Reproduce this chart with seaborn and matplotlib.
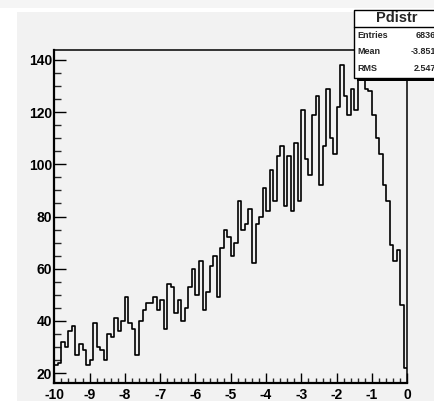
import numpy as np
import pandas as pd
import seaborn as sns
import matplotlib
matplotlib.use("Agg")
import matplotlib.pyplot as plt
from matplotlib.patches import Rectangle
from matplotlib.lines import Line2D
from matplotlib.ticker import MultipleLocator

# Histogram definition: 100 bins between -10 and 0
x_min, x_max, n_bins = -10.0, 0.0, 100
counts = [
    23, 24, 32, 30, 36, 38, 27, 31, 29, 23,
    25, 39, 30, 29, 25, 35, 34, 41, 36, 40,
    49, 39, 37, 27, 40, 44, 47, 47, 49, 44,
    48, 37, 54, 53, 43, 48, 40, 45, 53, 60,
    50, 63, 44, 51, 61, 65, 49, 68, 75, 72,
    65, 70, 86, 75, 77, 83, 62, 77, 80, 91,
    82, 98, 86, 103, 107, 84, 103, 82, 108, 86,
    121, 102, 96, 119, 126, 92, 107, 129, 110, 104,
    122, 138, 126, 119, 129, 121, 136, 134, 129, 128,
    119, 110, 104, 92, 86, 69, 63, 67, 46, 22,
]
hist_name = "Pdistr"
stat_names = ["Entries", "Mean", "RMS"]
stat_values = ["6836", "-3.851", "2.547"]

edges = np.linspace(x_min, x_max, n_bins + 1)
centers = 0.5 * (edges[:-1] + edges[1:])
df = pd.DataFrame({"p": centers, "n": counts})

sns.set_theme(style="ticks")
plt.rcParams["font.family"] = ["Liberation Sans", "DejaVu Sans"]
plt.rcParams["axes.unicode_minus"] = False

W, H = 435, 401
fig = plt.figure(figsize=(W / 100, H / 100), dpi=100, facecolor="white")


def fbox(x0, y0, x1, y1):
    """Pixel box (origin top-left) -> figure-fraction (x, y, w, h)."""
    return x0 / W, 1 - y1 / H, (x1 - x0) / W, (y1 - y0) / H


def add_rect(x0, y0, x1, y1, **kw):
    l, b, w, h = fbox(x0, y0, x1, y1)
    fig.patches.append(Rectangle((l, b), w, h, transform=fig.transFigure, **kw))


# canvas background
add_rect(17, 12, W, H, facecolor="#f2f2f2", edgecolor="none", zorder=-10)
add_rect(0, 0, W, 8, facecolor="#f5f5f5", edgecolor="none", zorder=-10)

ax = fig.add_axes(fbox(54.3, 50, 407.3, 383))
ax.set_facecolor("#f2f2f2")

sns.histplot(data=df, x="p", weights="n", bins=n_bins,
             binrange=(x_min, x_max), element="step",
             fill=False, color="black", linewidth=1.2, ax=ax)

lo, hi = min(counts), max(counts)
margin = 0.05 * (hi - lo)
ax.set_xlim(x_min, x_max)
ax.set_ylim(lo - margin, hi + margin)
ax.set_xlabel("")
ax.set_ylabel("")

ax.xaxis.set_major_locator(MultipleLocator(1))
ax.xaxis.set_minor_locator(MultipleLocator(0.2))
ax.yaxis.set_major_locator(MultipleLocator(20))
ax.yaxis.set_minor_locator(MultipleLocator(5))
ax.tick_params(axis="x", which="major", direction="in", length=7.2, width=1.0,
               pad=3.5, labelsize=10, colors="black")
ax.tick_params(axis="x", which="minor", direction="in", length=3.6, width=1.0)
ax.tick_params(axis="y", which="major", direction="in", length=8.6, width=1.0,
               pad=1.5, labelsize=10, colors="black")
ax.tick_params(axis="y", which="minor", direction="in", length=4.7, width=1.0)
for lab in ax.get_xticklabels() + ax.get_yticklabels():
    lab.set_fontweight("bold")

for side, lw in (("left", 1.6), ("bottom", 1.6), ("top", 1.1), ("right", 1.1)):
    ax.spines[side].set_visible(True)
    ax.spines[side].set_color("black")
    ax.spines[side].set_linewidth(lw)

# statistics box with shadow
bx0, by0, bx1, by1 = 354, 10, 440, 78
add_rect(bx0 + 3, by0 + 3, bx1 + 3, by1 + 3, facecolor="black",
         edgecolor="none", zorder=5)
add_rect(bx0, by0, bx1, by1, facecolor="white", edgecolor="black",
         linewidth=1.0, zorder=6)
fig.lines.append(Line2D([bx0 / W, bx1 / W], [1 - 27 / H, 1 - 27 / H],
                        transform=fig.transFigure, color="black",
                        linewidth=1.0, zorder=7))
fig.text(396.5 / W, 1 - 18.5 / H, hist_name, ha="center", va="center",
         fontsize=10.5, fontweight="bold", zorder=8)
for i, (name, val) in enumerate(zip(stat_names, stat_values)):
    yy = 1 - (35.5 + 16.5 * i) / H
    fig.text(357 / W, yy, name, ha="left", va="center", fontsize=6.5,
             fontweight="bold", zorder=8)
    fig.text(436 / W, yy, val, ha="right", va="center", fontsize=6.5,
             fontweight="bold", zorder=8)

fig.savefig("out.png", dpi=100, facecolor=fig.get_facecolor())
